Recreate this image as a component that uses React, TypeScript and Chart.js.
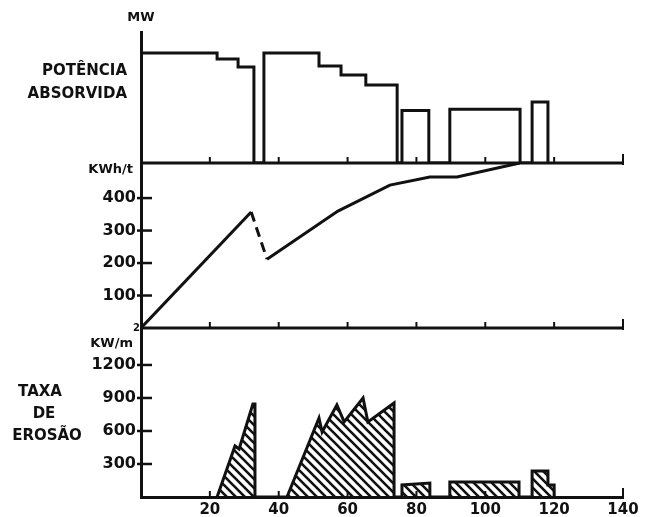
import React, { useEffect, useRef } from 'react';
import { Chart, registerables } from 'chart.js';

Chart.register(...registerables);

const INK = '#111111';
const FONT = '"DejaVu Sans", sans-serif';

// Shared x axis (time / position)
const xTicks = [20, 40, 60, 80, 100, 120, 140];

// Panel 1: Potência absorvida (MW, relative scale 0-100)
const powerX = [0, 22.1, 22.1, 28.2, 28.2, 32.8, 32.8, 35.7, 35.7, 51.7, 51.7, 58.1, 58.1, 65.3, 65.3, 74.4, 74.4, 75.8, 75.8, 83.6, 83.6, 89.7, 89.7, 110.1, 110.1, 113.6, 113.6, 118.2, 118.2];
const powerY = [84, 84, 79.4, 79.4, 73.3, 73.3, 0, 0, 84, 84, 74, 74, 67.2, 67.2, 59.5, 59.5, 0, 0, 40, 40, 0, 0, 41, 41, 0, 0, 46.6, 46.6, 0];

// Panel 2: energia específica (KWh/t)
const energyX = [0, 32, 36.6, 57.2, 72.3, 83.9, 91.8, 110];
const energyY = [0, 357, 212, 360, 440, 465, 465, 508];
const energyDashedSegment = 1;
const energyTicks = [100, 200, 300, 400];

// Panel 3: taxa de erosão (KW/m²)
const erosionX = [22.1, 27.3, 28.5, 32.5, 33.1, 33.1, 42.4, 51.7, 52.6, 56.9, 59, 64.5, 65.9, 73.5, 73.5, 75.8, 75.8, 83.9, 83.9, 89.7, 89.7, 109.8, 109.8, 113.6, 113.6, 118.2, 118.2, 120, 120];
const erosionY = [0, 464, 436, 845, 845, 0, 0, 718, 591, 836, 682, 900, 682, 855, 0, 0, 110, 127, 0, 0, 136, 136, 0, 0, 236, 236, 109, 109, 0];
const erosionTicks = [300, 600, 900, 1200];

const toPoints = (xs: number[], ys: number[]) => xs.map((x, i) => ({ x, y: ys[i] }));

function makeHatch(ctx: CanvasRenderingContext2D) {
  const s = 9;
  const c = document.createElement('canvas');
  c.width = s;
  c.height = s;
  const g = c.getContext('2d')!;
  g.strokeStyle = INK;
  g.lineWidth = 2.6;
  g.beginPath();
  g.moveTo(-1, -1);
  g.lineTo(s + 1, s + 1);
  g.moveTo(-2, s - 2);
  g.lineTo(2, s + 2);
  g.moveTo(s - 2, -2);
  g.lineTo(s + 2, 2);
  g.stroke();
  return ctx.createPattern(c, 'repeat');
}

const framePlugin = {
  id: 'frame',
  afterDatasetsDraw(chart: any) {
    const ctx = chart.ctx as CanvasRenderingContext2D;
    const xs = chart.scales.x;
    const { left, right } = chart.chartArea;
    const line = (x1: number, y1: number, x2: number, y2: number) => {
      ctx.beginPath();
      ctx.moveTo(x1, y1);
      ctx.lineTo(x2, y2);
      ctx.stroke();
    };
    ctx.save();
    ctx.strokeStyle = INK;
    ctx.lineCap = 'butt';
    ctx.lineWidth = 3;
    for (const id of ['yP', 'yK']) {
      const y = chart.scales[id].getPixelForValue(0);
      line(left, y, right, y);
    }
    ctx.lineWidth = 2;
    for (const id of ['yP', 'yK', 'yE']) {
      const y0 = chart.scales[id].getPixelForValue(0);
      for (const t of xTicks) {
        const px = xs.getPixelForValue(t);
        line(px, y0 + (t === 140 ? 2 : 0), px, y0 - (t === 140 ? 9 : 6));
      }
    }
    ctx.lineWidth = 2.5;
    for (const id of ['yK', 'yE']) {
      const sc = chart.scales[id];
      for (const t of sc.ticks) {
        const py = sc.getPixelForValue(t.value);
        line(left - 4, py, left + 11, py);
      }
    }
    ctx.restore();
  },
  afterDraw(chart: any) {
    const ctx = chart.ctx as CanvasRenderingContext2D;
    const { left, top } = chart.chartArea;
    const yK = chart.scales.yK;
    const yE = chart.scales.yE;
    ctx.save();
    ctx.fillStyle = INK;
    ctx.textBaseline = 'middle';
    ctx.font = `bold 13px ${FONT}`;
    ctx.textAlign = 'center';
    ctx.fillText('MW', left, top - 14);
    ctx.font = `bold 15px ${FONT}`;
    ctx.textAlign = 'right';
    ctx.fillText('POTÊNCIA', left - 14, top + 39);
    ctx.fillText('ABSORVIDA', left - 14, top + 62);
    ctx.font = `bold 13px ${FONT}`;
    ctx.fillText('KWh/t', left - 8, yK.top + 7);
    ctx.fillText('KW/m', left - 8, yE.top + 16);
    ctx.font = `bold 10px ${FONT}`;
    ctx.textAlign = 'left';
    ctx.fillText('2', left - 8, yE.top);
    ctx.font = `bold 15px ${FONT}`;
    ctx.textAlign = 'center';
    ctx.fillText('TAXA', 40, yE.top + 64);
    ctx.fillText('DE', 44, yE.top + 86);
    ctx.fillText('EROSÃO', 47, yE.top + 108);
    ctx.restore();
  },
};

const tickFont = { family: FONT, size: 16, weight: 'bold' as const };

export default function App() {
  const ref = useRef<HTMLCanvasElement | null>(null);
  useEffect(() => {
    const canvas = ref.current;
    if (!canvas) return;
    const ctx = canvas.getContext('2d')!;
    const hatch = makeHatch(ctx);
    const yBase = (extra: any) => ({
      type: 'linear',
      position: 'left',
      stack: 'panels',
      grid: { display: false, drawTicks: false },
      border: { display: true, color: INK, width: 3 },
      ticks: { color: INK, font: tickFont, padding: 5, callback: (v: number) => String(v) },
      afterFit: (s: any) => {
        s.width = 141;
      },
      ...extra,
    });
    const chart = new Chart(canvas, {
      type: 'line',
      data: {
        datasets: [
          {
            label: 'Potência absorvida',
            data: toPoints(powerX, powerY),
            yAxisID: 'yP',
            borderColor: INK,
            borderWidth: 3,
            pointRadius: 0,
            tension: 0,
            fill: false,
            borderJoinStyle: 'miter',
          },
          {
            label: 'KWh/t',
            data: toPoints(energyX, energyY),
            yAxisID: 'yK',
            borderColor: INK,
            borderWidth: 3,
            pointRadius: 0,
            tension: 0,
            fill: false,
            segment: {
              borderDash: (c: any) => (c.p0DataIndex === energyDashedSegment ? [10, 6] : undefined),
            },
          },
          {
            label: 'Taxa de erosão',
            data: toPoints(erosionX, erosionY),
            yAxisID: 'yE',
            borderColor: INK,
            borderWidth: 3,
            backgroundColor: hatch as any,
            pointRadius: 0,
            tension: 0,
            fill: 'origin',
            borderJoinStyle: 'miter',
          },
        ],
      },
      options: {
        responsive: false,
        animation: false,
        events: [],
        layout: { padding: { top: 32, right: 24, left: 0, bottom: 0 } },
        plugins: { legend: { display: false }, tooltip: { enabled: false } },
        scales: {
          x: {
            type: 'linear',
            min: 0,
            max: 140,
            position: 'bottom',
            grid: { display: false, drawTicks: false },
            border: { display: true, color: INK, width: 3 },
            ticks: {
              stepSize: 20,
              autoSkip: false,
              maxRotation: 0,
              padding: 4,
              color: INK,
              font: { family: FONT, size: 15, weight: 'bold' },
              callback: (v: number) => String(v),
            },
            afterBuildTicks: (s: any) => {
              s.ticks = xTicks.map((v) => ({ value: v }));
            },
            afterFit: (s: any) => {
              s.height = 20;
            },
          },
          yE: yBase({
            min: 0,
            max: 1536,
            stackWeight: 169,
            weight: 1,
            afterBuildTicks: (s: any) => {
              s.ticks = erosionTicks.map((v) => ({ value: v }));
            },
          }),
          yK: yBase({
            min: 0,
            max: 508,
            stackWeight: 165,
            weight: 2,
            afterBuildTicks: (s: any) => {
              s.ticks = energyTicks.map((v) => ({ value: v }));
            },
          }),
          yP: yBase({
            min: 0,
            max: 100,
            stackWeight: 131,
            weight: 3,
            ticks: { display: false },
          }),
        },
      } as any,
      plugins: [framePlugin],
    });
    return () => chart.destroy();
  }, []);
  return (
    <div style={{ position: 'fixed', left: 0, top: 0, width: 647, height: 517, background: '#fff' }}>
      <canvas ref={ref} width={647} height={517} style={{ width: 647, height: 517, display: 'block' }} />
    </div>
  );
}
